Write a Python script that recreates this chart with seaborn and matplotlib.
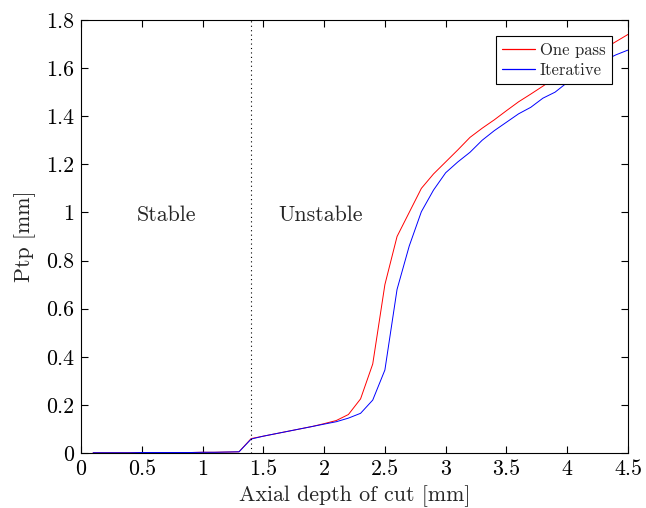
import numpy as np
import pandas as pd
import matplotlib
matplotlib.use("Agg")
import matplotlib.pyplot as plt
from matplotlib.lines import Line2D
import seaborn as sns

# Axial depth of cut [mm]
depth = [0.1, 0.2, 0.3, 0.4, 0.5, 0.6, 0.7, 0.8, 0.9, 1.0, 1.1, 1.2, 1.3, 1.4,
         1.5, 1.6, 1.7, 1.8, 1.9, 2.0, 2.1, 2.2, 2.3, 2.4, 2.5, 2.6, 2.7, 2.8,
         2.9, 3.0, 3.1, 3.2, 3.3, 3.4, 3.5, 3.6, 3.7, 3.8, 3.9, 4.0, 4.1, 4.2,
         4.3, 4.4, 4.5]

# Peak-to-peak amplitude [mm], single-pass model
ptp_one_pass = [0.001, 0.001, 0.001, 0.001, 0.002, 0.002, 0.002, 0.002, 0.002,
                0.003, 0.003, 0.004, 0.005, 0.060, 0.070, 0.080, 0.090, 0.100,
                0.110, 0.122, 0.135, 0.160, 0.225, 0.370, 0.700, 0.900, 1.000,
                1.100, 1.160, 1.210, 1.260, 1.312, 1.350, 1.385, 1.423, 1.460,
                1.492, 1.525, 1.560, 1.590, 1.620, 1.650, 1.680, 1.710, 1.740]

# Peak-to-peak amplitude [mm], iterative model
ptp_iterative = [0.001, 0.001, 0.001, 0.001, 0.002, 0.002, 0.002, 0.002, 0.002,
                 0.003, 0.003, 0.004, 0.005, 0.058, 0.070, 0.080, 0.090, 0.100,
                 0.110, 0.120, 0.130, 0.145, 0.165, 0.220, 0.345, 0.680, 0.860,
                 1.003, 1.093, 1.165, 1.210, 1.250, 1.300, 1.340, 1.375, 1.410,
                 1.437, 1.475, 1.500, 1.540, 1.570, 1.600, 1.630, 1.655, 1.675]

series_names = ["One pass", "Iterative"]
series_colors = {"One pass": "#ff0000", "Iterative": "#0000ff"}
stability_limit = 1.4

df = pd.DataFrame({
    "depth": depth * 2,
    "ptp": ptp_one_pass + ptp_iterative,
    "method": [series_names[0]] * len(depth) + [series_names[1]] * len(depth),
})

sns.set_style("ticks")
plt.rcParams["font.family"] = "serif"
plt.rcParams["font.serif"] = ["cmr10"]
plt.rcParams["mathtext.fontset"] = "cm"
plt.rcParams["axes.formatter.use_mathtext"] = True

FS = 15.8

fig = plt.figure(figsize=(6.46, 5.08), dpi=100)
ax = fig.add_axes([81 / 646, 55 / 508, 547 / 646, 433 / 508])

sns.lineplot(data=df, x="depth", y="ptp", hue="method",
             palette=series_colors, linewidth=0.7, ax=ax, legend=False)

ax.axvline(stability_limit, color="black", linestyle=(0, (1, 3)), linewidth=0.8)

ax.text(0.70, 0.99, "Stable", ha="center", va="center", fontsize=FS)
ax.text(1.97, 0.99, "Unstable", ha="center", va="center", fontsize=FS)

ax.set_xlim(0, 4.5)
ax.set_ylim(0, 1.8)
ax.set_xticks(np.arange(0, 4.51, 0.5))
ax.set_yticks(np.arange(0, 1.81, 0.2))
ax.set_xticklabels(["0", "0.5", "1", "1.5", "2", "2.5", "3", "3.5", "4", "4.5"])
ax.set_yticklabels(["0", "0.2", "0.4", "0.6", "0.8", "1", "1.2", "1.4", "1.6", "1.8"])
ax.tick_params(direction="in", length=5, width=0.8, top=True, right=True,
               labelsize=FS, pad=5, colors="black")
for s in ax.spines.values():
    s.set_linewidth(0.8)
    s.set_color("black")

ax.set_xlabel("Axial depth of cut [mm]", fontsize=FS, labelpad=4)
ax.set_ylabel("Ptp [mm]", fontsize=FS, labelpad=7)

handles = [Line2D([], [], color=series_colors[n], linewidth=0.9) for n in series_names]
leg = ax.legend(handles, series_names, loc="upper right",
                bbox_to_anchor=(0.970, 0.962),
                borderaxespad=0, fancybox=False, edgecolor="black",
                framealpha=1, fontsize=12, handlelength=2.0,
                borderpad=0.35, labelspacing=0.3, handletextpad=0.3)
leg.get_frame().set_linewidth(0.8)

fig.savefig("out.png", dpi=100)
